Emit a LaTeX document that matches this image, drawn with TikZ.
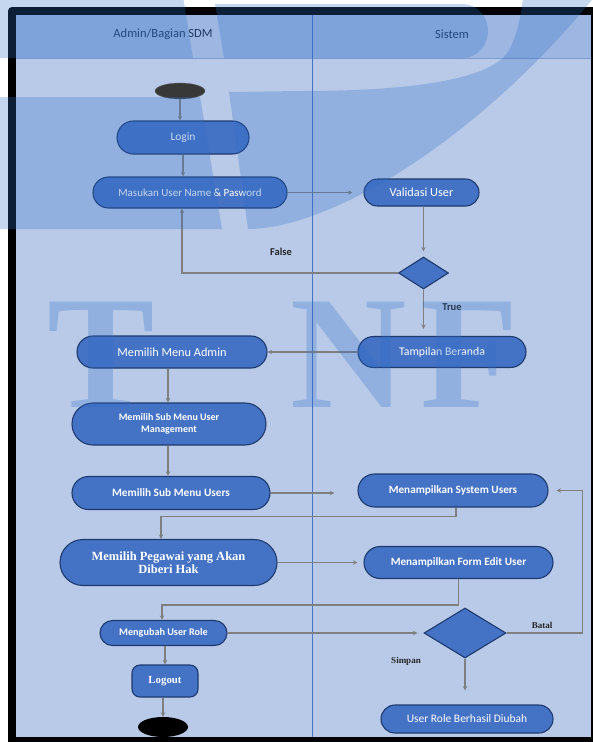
\documentclass[tikz,border=0pt]{standalone}
\usepackage{fontspec}
\setmainfont{Carlito}
\newfontfamily\timesfont{Liberation Serif}
\usetikzlibrary{shapes.misc,shapes.geometric,arrows.meta}

\definecolor{bodybg}{HTML}{B8CAE8}
\definecolor{headbg}{HTML}{9DB7E2}
\definecolor{headline}{HTML}{7C9BD0}
\definecolor{lanediv}{HTML}{4472C4}
\definecolor{actfill}{HTML}{4472C4}
\definecolor{actdraw}{HTML}{1F3A6E}
\definecolor{flowgray}{HTML}{7F7F7F}
\definecolor{titletext}{HTML}{1F3864}
\definecolor{logoblue}{HTML}{2F6FC8}

\newcommand{\setfs}[2]{\fontsize{#1}{#2}\selectfont}

\begin{document}
\begin{tikzpicture}[x=1pt,y=-1pt,
  act/.style={rounded rectangle, fill=actfill, draw=actdraw, line width=1.1pt,
              text=white, inner sep=0pt, align=center},
  diam/.style={diamond, fill=actfill, draw=actdraw, line width=1.1pt, inner sep=0pt},
  flow/.style={draw=flowgray, line width=1.2pt, -{Stealth[length=4.5pt,width=4.5pt]}},
  lanetitle/.style={text=titletext, font=\setfs{12.5}{14}, inner sep=0pt},
  guard/.style={text=black!85, font=\bfseries\setfs{10.5}{12}, inner sep=0pt},
  guardserif/.style={text=black!85, font=\timesfont\bfseries\setfs{9}{10}, inner sep=0pt},
  logoletter/.style={text=logoblue, text opacity=0.28, inner sep=0pt, anchor=base west,
              font=\timesfont\bfseries\setfs{161}{161}}]

\useasboundingbox (0,0) rectangle (593,742);
\fill[white] (0,0) rectangle (593,742);

% frame, swimlane body and header
\fill[black, rounded corners=4pt] (8,7) rectangle (603,752);
\fill[bodybg] (16,15) rectangle (591,737);
\fill[headbg] (16,15) rectangle (591,58);
\draw[headline, line width=1pt] (16,58) -- (591,58);
\draw[lanediv, line width=1.2pt] (312.5,15) -- (312.5,737);
\node[lanetitle] (laneA) at (163,34) {Admin/Bagian SDM};
\node[lanetitle] (laneB) at (452,34) {Sistem};

% activities
\node[ellipse, fill=black!78, draw=black!60, minimum width=50pt, minimum height=16pt, inner sep=0pt] (start) at (180,91) {};
\node[act, minimum width=132pt, minimum height=33pt, font=\setfs{11.5}{13}] (login) at (183,137.5) {Login};
\node[act, minimum width=194pt, minimum height=31pt, font=\setfs{11}{13}] (masukan) at (190,192.5) {Masukan User Name \& Pasword};
\node[act, minimum width=115pt, minimum height=27pt, font=\setfs{12.3}{14}] (validasi) at (421.5,192.5) {Validasi User};
\node[diam, minimum width=50pt, minimum height=32pt] (dec1) at (423.5,273) {};
\node[act, minimum width=168pt, minimum height=31pt, font=\setfs{11.8}{14}] (tampilan) at (442,352) {Tampilan Beranda};
\node[act, minimum width=190pt, minimum height=32pt, font=\setfs{12.3}{14}] (menuadmin) at (172,352) {Memilih Menu Admin};
\node[act, minimum width=194pt, minimum height=42pt, font=\bfseries\setfs{10}{12}] (submgmt) at (169,424) {Memilih Sub Menu User\\Management};
\node[act, minimum width=198pt, minimum height=33pt, font=\bfseries\setfs{11.3}{13}] (subusers) at (171,493) {Memilih Sub Menu Users};
\node[act, minimum width=190pt, minimum height=33pt, font=\bfseries\setfs{11.2}{13}] (sysusers) at (453,490.5) {Menampilkan System Users};
\node[act, minimum width=217pt, minimum height=46pt, font=\timesfont\bfseries\setfs{12.5}{13}] (pegawai) at (168.5,562.5) {Memilih Pegawai yang Akan\\Diberi Hak};
\node[act, minimum width=189pt, minimum height=32pt, font=\bfseries\setfs{11.2}{13}] (formedit) at (458.5,562.5) {Menampilkan Form Edit User};
\node[act, minimum width=127pt, minimum height=25pt, font=\bfseries\setfs{10.2}{12}] (mengubah) at (163.5,633) {Mengubah User Role};
\node[diam, minimum width=82pt, minimum height=50pt] (dec2) at (465,633) {};
\node[rectangle, rounded corners=8pt, fill=actfill, draw=actdraw, line width=1.1pt, text=white,
      minimum width=66pt, minimum height=32pt, inner sep=0pt, font=\timesfont\bfseries\setfs{10.8}{12}] (logout) at (165,681) {Logout};
\node[act, minimum width=172pt, minimum height=28pt, font=\setfs{11.5}{13}] (berhasil) at (467,719) {User Role Berhasil Diubah};
\node[ellipse, fill=black, minimum width=50pt, minimum height=20pt, inner sep=0pt] (stop) at (163,727) {};

% control flow
\draw[flow] (start.south) -- (start.south |- login.north);
\draw[flow] (login.south) -- (login.south |- masukan.north);
\draw[flow, shorten >=11pt] (masukan.east) -- (validasi.west);
\draw[flow, shorten >=5pt] (validasi.south -| dec1.north) -- (dec1.north);
\draw[flow] (dec1.west) -| ([xshift=-8pt]masukan.south);
\draw[flow, shorten >=7pt] (dec1.south) -- (dec1.south |- tampilan.north);
\draw[flow] (tampilan.west) -- (menuadmin.east);
\draw[flow] ([xshift=-4pt]menuadmin.south) -- ([xshift=-4pt]menuadmin.south |- submgmt.north);
\draw[flow] ([xshift=-1pt]submgmt.south) -- ([xshift=-1pt]submgmt.south |- subusers.north);
\draw[flow, shorten >=23pt] (subusers.east) -- (subusers.east -| sysusers.west);
\draw[flow] ([xshift=3pt]sysusers.south) -- ++(0,9) -| ([xshift=-7.5pt]pegawai.north);
\draw[flow, shorten >=6pt] (pegawai.east) -- (pegawai.east -| formedit.west);
\draw[flow] (formedit.south) -- ++(0,26) -| ([xshift=-1.5pt]mengubah.north);
\draw[flow, shorten >=6pt] (mengubah.east) -- (dec2.west);
\draw[flow, shorten >=8pt] (dec2.east) -- ++(76,0) |- (sysusers.east);
\draw[flow, shorten >=14pt] (dec2.south) -- (dec2.south |- berhasil.north);
\draw[flow] (mengubah.south -| logout.north) -- (logout.north);
\draw[flow] (stop.north |- logout.south) -- (stop.north);

% guard labels
\node[guard] (lfalse) at (281,252) {False};
\node[guard] (ltrue) at (452,307) {True};
\node[guardserif] (lbatal) at (542,625) {Batal};
\node[guardserif] (lsimpan) at (406,661) {Simpan};

% background logo laid over the sheet
\begin{scope}
  \clip (0,0) rectangle (593,742);
  \begin{scope}[fill=logoblue, fill opacity=0.28]
    \fill (-5,-10) -- (182,-10) -- (193,58) -- (-5,58) -- cycle;
    \fill (215,4) -- (461,4) .. controls (497,4) and (497,58) .. (461,58) -- (224,58) -- cycle;
    \fill (-5,97) -- (200,97) -- (222,229) -- (-5,229) -- cycle;
    \fill (229,92) -- (300,91) .. controls (420,91) and (490,78) .. (508,52)
          .. controls (518,35) and (522,10) .. (524,-10) -- (600,-10)
          .. controls (480,140) and (330,229) .. (248,229) -- cycle;
  \end{scope}
  \node[logoletter] (letT) at (47,407) {T};
  \node[logoletter] (letN) at (290,407) {N};
  \node[logoletter] (letF) at (420,407) {F};
\end{scope}
\end{tikzpicture}
\end{document}
